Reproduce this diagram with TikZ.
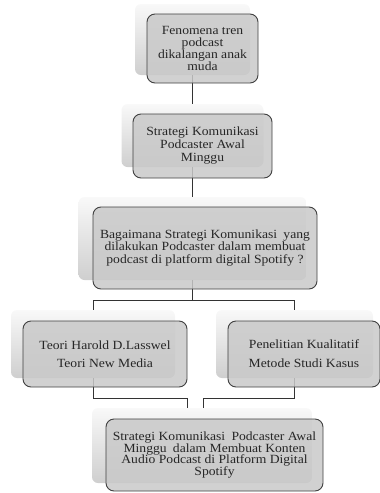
\documentclass[tikz,border=0pt]{standalone}
\usepackage{fontspec}
\setmainfont{Liberation Serif}[FakeStretch=1.09]

\begin{document}
\begin{tikzpicture}[x=1pt, y=1pt,
	back/.style={rounded corners=6pt, top color=gray!5, bottom color=gray!38, inner sep=0pt},
	front/.style={draw=black!75, line width=0.9pt, rounded corners=8pt, fill=gray!42, fill opacity=0.85, text opacity=1, text=black!85, align=center, inner sep=0pt},
	link/.style={draw=black!80, line width=0.9pt}]
	\useasboundingbox (0,0) rectangle (380,-493);
	\node[back, minimum width=115, minimum height=71] (b1) at (192.5,-39.5) {};
	\node[back, minimum width=142, minimum height=63] (b2) at (192.5,-135.5) {};
	\node[back, minimum width=228, minimum height=83] (b3) at (192.5,-238.5) {};
	\node[back, minimum width=164, minimum height=68] (b4) at (93,-344) {};
	\node[back, minimum width=157, minimum height=68] (b5) at (294.5,-344) {};
	\node[back, minimum width=220, minimum height=75] (b6) at (202,-445.5) {};
	\draw[link] (b1.south) -- (b2.north);
	\draw[link] (b2.south) -- (b3.north);
	\draw[link] (b3.south) -- ++(0,-20) -| (b4.north);
	\draw[link] (b3.south) -- ++(0,-20) -| (b5.north);
	\draw[link] (b4.south) -- ++(0,-20) -| ([xshift=-15]b6.north);
	\draw[link] (b5.south) -- ++(0,-20) -| ([xshift=1]b6.north);
	\node[front, minimum width=111, minimum height=69, font=\fontsize{12.5}{11.7}\selectfont] (t1) at (202.5,-48.5) {Fenomena tren\\podcast\\dikalangan anak\\muda};
	\node[front, minimum width=139, minimum height=64, font=\fontsize{12.5}{13}\selectfont] (t2) at (202.5,-146) {Strategi Komunikasi\\Podcaster Awal\\Minggu};
	\node[front, minimum width=224, minimum height=82, font=\fontsize{12.5}{12.7}\selectfont] (t3) at (205,-248) {Bagaimana Strategi Komunikasi\enspace yang\\dilakukan Podcaster dalam membuat\\podcast di platform digital Spotify ?};
	\node[front, minimum width=164, minimum height=66, font=\fontsize{12.5}{18}\selectfont] (t4) at (105,-354) {Teori Harold D.Lasswel\\Teori New Media};
	\node[front, minimum width=152, minimum height=66, font=\fontsize{12.5}{19}\selectfont] (t5) at (304,-354) {Penelitian Kualitatif\\Metode Studi Kasus};
	\node[front, minimum width=217, minimum height=72, font=\fontsize{12.5}{11.7}\selectfont] (t6) at (214.5,-455) {Strategi Komunikasi\enspace Podcaster Awal\\Minggu\enspace dalam Membuat Konten\\Audio Podcast di Platform Digital\\Spotify};
\end{tikzpicture}
\end{document}
